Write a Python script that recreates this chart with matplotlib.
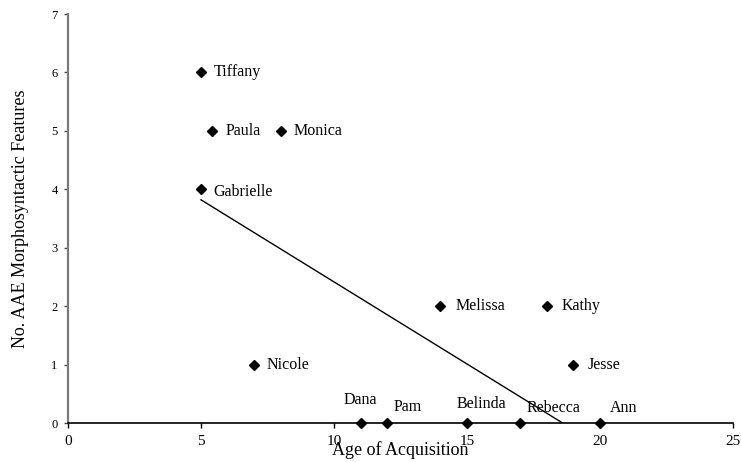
import matplotlib
matplotlib.use("Agg")
import matplotlib.pyplot as plt

# Participants: age of acquisition vs. number of AAE morphosyntactic features
names = ["Tiffany", "Paula", "Monica", "Gabrielle", "Nicole", "Melissa",
         "Kathy", "Jesse", "Dana", "Pam", "Belinda", "Rebecca", "Ann"]
age = [5, 5.4, 8, 5, 7, 14, 18, 19, 11, 12, 15, 17, 20]
features = [6, 5, 5, 4, 1, 2, 2, 1, 0, 0, 0, 0, 0]

# Linear trend line (slope, intercept)
trend_slope = -0.281
trend_intercept = 5.225

x_ticks = [0, 5, 10, 15, 20, 25]
y_ticks = [0, 1, 2, 3, 4, 5, 6, 7]

# label offsets in pixels (dx, dy, horizontal alignment)
label_offsets = {
    "Tiffany": (13, 0, "left"), "Paula": (14, 0, "left"),
    "Monica": (13, 0, "left"), "Gabrielle": (12, -3, "left"),
    "Nicole": (12, 0, "left"), "Melissa": (15, 0, "left"),
    "Kathy": (15, 0, "left"), "Jesse": (14, 0, "left"),
    "Dana": (0, 23, "center"), "Pam": (21, 16, "center"),
    "Belinda": (14, 19, "center"), "Rebecca": (33, 15, "center"),
    "Ann": (24, 15, "center"),
}

plt.rcParams["font.family"] = ["Liberation Serif", "DejaVu Serif"]

fig = plt.figure(figsize=(7.41, 4.62), dpi=100)
ax = fig.add_axes([68 / 741, 1 - 423 / 462, 665 / 741, 409 / 462])

# trend line spans the data range, clipped at the x axis
x0, x1 = min(age), max(age)
x_end = min(x1, -trend_intercept / trend_slope)
ax.plot([x0, x_end], [trend_slope * x0 + trend_intercept,
                      trend_slope * x_end + trend_intercept],
        color="black", lw=1.0, zorder=2)

ax.plot(age, features, linestyle="none", marker="D", markersize=5.6,
        color="black", zorder=3, clip_on=False)

for n, x, y in zip(names, age, features):
    dx, dy, ha = label_offsets[n]
    ax.annotate(n, (x, y), xytext=(dx, dy), textcoords="offset pixels",
                ha=ha, va="center", fontsize=11.5, color="black")

ax.set_xlim(0, 25)
ax.set_ylim(0, 7)
ax.set_xticks(x_ticks)
ax.set_yticks(y_ticks)
ax.tick_params(axis="x", direction="out", length=3.5, width=1,
               labelsize=11, pad=5)
ax.tick_params(axis="y", direction="out", length=3, width=1,
               labelsize=9, pad=4.5, color="#505050")

for s in ["top", "right"]:
    ax.spines[s].set_visible(False)
ax.spines["left"].set_color("#7a7a7a")
ax.spines["left"].set_linewidth(1.6)
ax.spines["bottom"].set_color("black")
ax.spines["bottom"].set_linewidth(1.2)

ax.set_xlabel("Age of Acquisition", fontsize=13)
ax.xaxis.set_label_coords(0.5, -0.066)
ax.xaxis.label.set_va("center")
ax.set_ylabel("No. AAE Morphosyntactic Features", fontsize=13)
ax.yaxis.set_label_coords(-0.072, 0.5)
ax.yaxis.label.set_va("center")

fig.savefig("out.png", dpi=100)
